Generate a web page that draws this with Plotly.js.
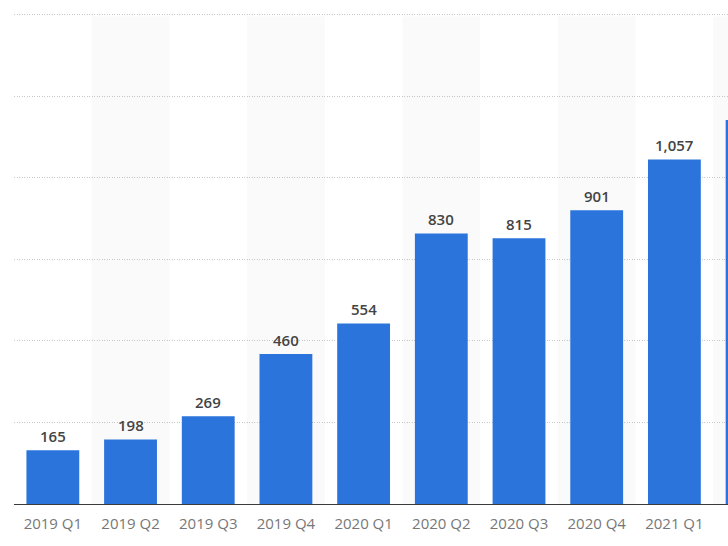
<!DOCTYPE html>
<html>
<head>
<meta charset="utf-8">
<script src="https://cdn.plot.ly/plotly-3.0.1.min.js"></script>
<style>html,body{margin:0;padding:0;background:#fff;}#chart{width:728px;height:546px;}</style>
</head>
<body>
<div id="chart"></div>
<script>
const categories = ["2019 Q1","2019 Q2","2019 Q3","2019 Q4","2020 Q1","2020 Q2","2020 Q3","2020 Q4","2021 Q1","2021 Q2"];
const values = [165, 198, 269, 460, 554, 830, 815, 901, 1057, 1178];
const yTicks = [0, 250, 500, 750, 1000, 1250, 1500];

const fmt = v => v.toLocaleString('en-US');

const shapes = categories.map((c, i) => i % 2 === 1 ? {
  type: 'rect', xref: 'x', yref: 'y', layer: 'below',
  x0: i - 0.5, x1: i + 0.5, y0: 0, y1: 1495,
  fillcolor: '#fafafa', line: {width: 0}
} : null).filter(Boolean);

const annotations = categories.map((c, i) => ({
  x: c, y: values[i], xref: 'x', yref: 'y',
  text: fmt(values[i]),
  showarrow: false, yanchor: 'bottom', yshift: 2,
  font: {family: 'Open Sans, sans-serif', size: 15, weight: 600, color: '#444'}
}));

const trace = {
  type: 'bar', x: categories, y: values,
  marker: {color: '#2a74db'},
  width: 0.68, hoverinfo: 'none'
};

const layout = {
  width: 728, height: 546,
  margin: {l: 14, r: 0, t: 13, b: 42},
  paper_bgcolor: '#fff', plot_bgcolor: 'rgba(0,0,0,0)',
  showlegend: false,
  font: {family: 'Open Sans, sans-serif', color: '#666'},
  xaxis: {
    type: 'category', range: [-0.5, 8.69],
    showgrid: false, showline: true, linecolor: '#3a3a3a', linewidth: 1,
    ticks: '', ticklabelstandoff: 6, tickfont: {size: 15, color: '#777'},
    fixedrange: true
  },
  yaxis: {
    range: [0, 1506], tickvals: yTicks, showticklabels: false,
    showgrid: true, gridcolor: '#c8c8c8', griddash: '1px,1.5px', gridwidth: 1,
    zeroline: false, fixedrange: true
  },
  shapes: shapes,
  annotations: annotations
};

Plotly.newPlot('chart', [trace], layout, {displayModeBar: false, staticPlot: true});
</script>
</body>
</html>
